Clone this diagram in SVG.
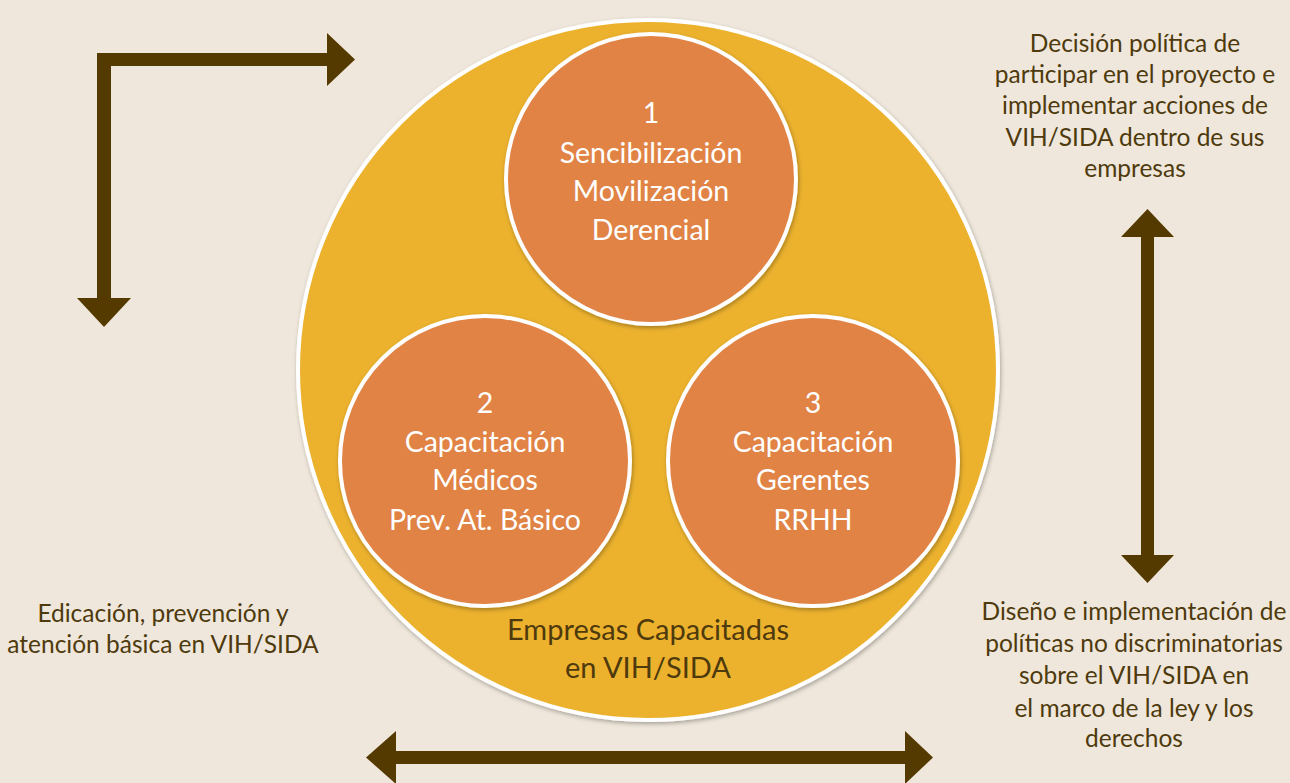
<svg xmlns="http://www.w3.org/2000/svg" width="1290" height="783" viewBox="0 0 1290 783">
<defs>
<filter id="sh" x="-10%" y="-10%" width="120%" height="120%">
<feDropShadow dx="1" dy="2" stdDeviation="2" flood-color="#000" flood-opacity="0.3"/>
</filter>
</defs>
<style>
.bg{fill:#EFE7DB}
.big{fill:#ECB22E;stroke:#fff;stroke-width:4}
.step{fill:#E08345;stroke:#fff;stroke-width:4}
.arrow{fill:#553A00}
.ct{font-family:Lato,"Open Sans",sans-serif;font-size:28.5px;fill:#fff;text-anchor:middle}
.lt{font-family:Lato,"Open Sans",sans-serif;font-size:24.5px;fill:#4E3A0C;text-anchor:middle}
.mt{font-family:Lato,"Open Sans",sans-serif;font-size:29px;fill:#4E3A0C;text-anchor:middle}
</style>
<rect class="bg" x="0" y="0" width="1290" height="783"/>
<g id="empresas">
<circle class="big" cx="648" cy="370" r="350" filter="url(#sh)"/>
<text class="mt"><tspan x="648" y="640">Empresas Capacitadas</tspan><tspan x="648" y="678">en VIH/SIDA</tspan></text>
</g>
<g id="step1">
<circle class="step" cx="651" cy="179" r="145" filter="url(#sh)"/>
<text class="ct"><tspan x="651" y="123">1</tspan><tspan x="651" y="163">Sencibilización</tspan><tspan x="651" y="201">Movilización</tspan><tspan x="651" y="240">Derencial</tspan></text>
</g>
<g id="step2">
<circle class="step" cx="485" cy="461" r="145" filter="url(#sh)"/>
<text class="ct"><tspan x="485" y="413">2</tspan><tspan x="485" y="452">Capacitación</tspan><tspan x="485" y="490">Médicos</tspan><tspan x="485" y="530">Prev. At. Básico</tspan></text>
</g>
<g id="step3">
<circle class="step" cx="813" cy="461" r="145" filter="url(#sh)"/>
<text class="ct"><tspan x="813" y="413">3</tspan><tspan x="813" y="452">Capacitación</tspan><tspan x="813" y="490">Gerentes</tspan><tspan x="813" y="530">RRHH</tspan></text>
</g>
<g id="label-decision">
<text class="lt"><tspan x="1135" y="52">Decisión política de</tspan><tspan x="1135" y="83">participar en el proyecto e</tspan><tspan x="1135" y="114">implementar acciones de</tspan><tspan x="1135" y="146">VIH/SIDA dentro de sus</tspan><tspan x="1135" y="177">empresas</tspan></text>
</g>
<g id="label-diseno">
<text class="lt"><tspan x="1134" y="620">Diseño e implementación de</tspan><tspan x="1134" y="652">políticas no discriminatorias</tspan><tspan x="1134" y="684">sobre el VIH/SIDA en</tspan><tspan x="1134" y="717">el marco de la ley y los</tspan><tspan x="1134" y="747">derechos</tspan></text>
</g>
<g id="label-educacion">
<text class="lt"><tspan x="163" y="622">Edicación, prevención y</tspan><tspan x="163" y="653">atención básica en VIH/SIDA</tspan></text>
</g>
<g id="connectors">
<polygon class="arrow" points="97,53 327,53 327,33 355,59.5 327,86 327,66 111,66 111,298 131,298 104,327 77,298 97,298"/>
<polygon class="arrow" points="1147.5,209 1174,237 1154,237 1154,555 1174,555 1147.5,583 1121,555 1141,555 1141,237 1121,237"/>
<polygon class="arrow" points="366,757.5 396,731 396,751 905,751 905,731 933,757.5 905,784 905,764 396,764 396,784"/>
</g>
</svg>
